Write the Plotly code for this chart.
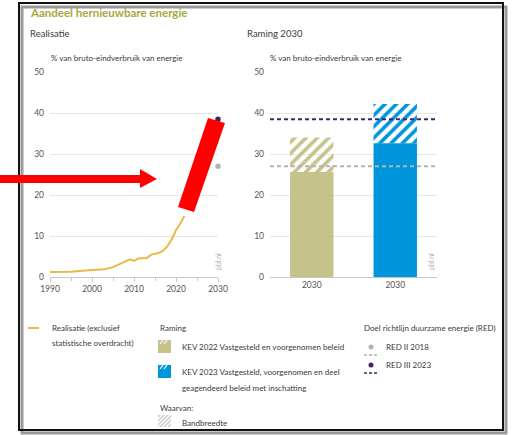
import plotly.graph_objects as go

# ---------------- data ----------------
years = [1990, 1995, 2000, 2003, 2005, 2007, 2008, 2009, 2010, 2011, 2012, 2013,
         2014, 2015, 2016, 2017, 2018, 2019, 2020, 2021, 2022]
share = [1.2, 1.3, 1.7, 1.9, 2.4, 3.4, 3.9, 4.3, 3.9, 4.5, 4.6, 4.6,
         5.4, 5.7, 5.9, 6.5, 7.6, 9.2, 11.4, 13.0, 14.9]

target_year = 2030
red_ii = 27.0
red_iii = 38.5

scen_labels = ["2030", "2030"]
scen_low = [25.6, 32.6]
scen_high = [34.0, 42.2]

title = "Aandeel hernieuwbare energie"
ytitle = "% van bruto-eindverbruik van energie"

# ---------------- styles ----------------
W, H = 512, 435
def px(x):
    return x / W
def py(y):
    return 1 - y / H

FONT = "Lato"
OLIVE = "#c5c28c"
BLUE = "#0096dc"
ORANGE = "#e9b949"
GRAYD = "#b3b3b3"
PURPLE = "#45226e"
TXT = "#3a3a3a"

fig = go.Figure()

# left: realisation line
fig.add_trace(go.Scatter(x=years, y=share, mode="lines",
                         line=dict(color=ORANGE, width=2), xaxis="x", yaxis="y",
                         hoverinfo="skip"))
fig.add_trace(go.Scatter(x=[target_year, target_year], y=[red_ii, red_iii], mode="markers",
                         marker=dict(color=[GRAYD, PURPLE], size=7,
                                     line=dict(color="white", width=1.5)),
                         xaxis="x", yaxis="y", cliponaxis=False, hoverinfo="skip"))

# right: bars
xi = list(range(len(scen_labels)))
fig.add_trace(go.Bar(x=xi, y=scen_low, marker=dict(color=[OLIVE, BLUE], line=dict(width=0)),
                     width=0.52, xaxis="x2", yaxis="y2", hoverinfo="skip"))
fig.add_trace(go.Bar(x=xi, y=[h - l for h, l in zip(scen_high, scen_low)], base=scen_low,
                     marker=dict(color=[OLIVE, BLUE], line=dict(width=0),
                                 pattern=dict(shape="/", fgcolor="white", bgcolor=[OLIVE, BLUE],
                                              fillmode="replace", size=8, solidity=0.45)),
                     width=0.52, xaxis="x2", yaxis="y2", hoverinfo="skip"))
fig.add_trace(go.Scatter(x=[-0.5, 1.5], y=[red_ii, red_ii], mode="lines",
                         line=dict(color=GRAYD, width=2, dash="4px,3px"),
                         xaxis="x2", yaxis="y2", hoverinfo="skip"))
fig.add_trace(go.Scatter(x=[-0.5, 1.5], y=[red_iii, red_iii], mode="lines",
                         line=dict(color=PURPLE, width=2, dash="4px,3px"),
                         xaxis="x2", yaxis="y2", hoverinfo="skip"))

tickfont = dict(family=FONT, size=8.5, color="#555")
ydom = [py(277), py(72)]

fig.update_layout(
    width=W, height=H, margin=dict(l=0, r=0, t=0, b=0, pad=0, autoexpand=False),
    paper_bgcolor="white", plot_bgcolor="white", showlegend=False, barmode="overlay",
    font=dict(family=FONT, color=TXT),
    xaxis=dict(domain=[px(50), px(218)], range=[1990, 2030], tickvals=[1990, 2000, 2010, 2020, 2030],
               showgrid=False, showline=True, linecolor="#c8c8c8", linewidth=1,
               ticks="outside", ticklen=4, tickcolor="#c8c8c8",
               minor=dict(dtick=5, ticks="outside", ticklen=3, tickcolor="#c8c8c8"),
               tickfont=tickfont, anchor="y", zeroline=False, fixedrange=True, automargin=False),
    yaxis=dict(domain=ydom, range=[0, 50], dtick=10, gridcolor="#e6e6e6", gridwidth=1,
               zeroline=False, showline=False, tickfont=tickfont, ticklabelstandoff=5,
               anchor="x", fixedrange=True, automargin=False),
    xaxis2=dict(domain=[px(270), px(437)], range=[-0.5, 1.5], tickvals=xi, ticktext=scen_labels,
                showgrid=False, showline=True, linecolor="#c8c8c8", ticks="",
                tickfont=tickfont, anchor="y2", zeroline=False, fixedrange=True, automargin=False),
    yaxis2=dict(domain=ydom, range=[0, 50], dtick=10, gridcolor="#e6e6e6", gridwidth=1,
                zeroline=False, showline=False, tickfont=tickfont, ticklabelstandoff=5,
                anchor="x2", fixedrange=True, automargin=False),
)

ann = []
def txt(x, y, s, size=8, color=TXT, anchor="left", **kw):
    ann.append(dict(x=px(x), y=py(y), xref="paper", yref="paper", text=s, showarrow=False,
                    xanchor=anchor, yanchor="middle", font=dict(family=FONT, size=size, color=color), **kw))

txt(28, 12, "<b>" + title + "</b>", size=11.5, color="#a7a93d")
txt(28, 33, "Realisatie", size=9.5)
txt(245, 33, "Raming 2030", size=9.5)
txt(49, 58, ytitle, size=8)
txt(268, 58, ytitle, size=8)
ann.append(dict(x=px(218), y=py(262), xref="paper", yref="paper", text="pbl.nl", showarrow=False,
                textangle=-90, font=dict(family=FONT, size=7, color="#aaa")))
ann.append(dict(x=px(437), y=py(262), xref="paper", yref="paper", text="pbl.nl", showarrow=False,
                textangle=-90, font=dict(family=FONT, size=7, color="#aaa")))

# legend texts
txt(50, 328, "Realisatie (exclusief")
txt(50, 343, "statistische overdracht)")
txt(158, 328, "Raming")
txt(180, 347, "KEV 2022 Vastgesteld en voorgenomen beleid")
txt(180, 372, "KEV 2023 Vastgesteld, voorgenomen en deel")
txt(180, 388, "geagendeerd beleid met inschatting")
txt(158, 408, "Waarvan:")
txt(180, 423, "Bandbreedte")
txt(362, 328, "Doel richtlijn duurzame energie (RED)")
txt(384, 347, "RED II 2018")
txt(384, 365, "RED III 2023")

shapes = []
def rect(x0, y0, x1, y1, fill, line=None, lw=0):
    shapes.append(dict(type="rect", xref="paper", yref="paper", x0=px(x0), y0=py(y0), x1=px(x1), y1=py(y1),
                       fillcolor=fill, line=dict(color=line or fill, width=lw), layer="above"))
def seg(x0, y0, x1, y1, color, width=1, dash="solid"):
    shapes.append(dict(type="line", xref="paper", yref="paper", x0=px(x0), y0=py(y0), x1=px(x1), y1=py(y1),
                       line=dict(color=color, width=width, dash=dash), layer="above"))
def path(pts, color):
    d = "M " + " L ".join(f"{px(a):.5f},{py(b):.5f}" for a, b in pts) + " Z"
    shapes.append(dict(type="path", xref="paper", yref="paper", path=d, fillcolor=color,
                       line=dict(color=color, width=0), layer="above"))

# legend swatches
seg(28, 328, 39, 328, ORANGE, 2)
rect(158, 340, 171, 353, OLIVE)
seg(160, 344, 163, 340, "white", 1.2)
seg(164, 344, 167, 340, "white", 1.2)
rect(158, 365, 171, 378, BLUE)
seg(160, 369, 163, 365, "white", 1.2)
seg(164, 369, 167, 365, "white", 1.2)
rect(158, 415, 171, 427, "#cfcfcf")
for k in range(-8, 14, 4):
    seg(158 + k, 427, 158 + k + 12, 415, "white", 1.3)
rect(152, 413, 158, 429, "white")
rect(171, 413, 177, 429, "white")
shapes.append(dict(type="circle", xref="paper", yref="paper", x0=px(368.5), y0=py(344.5), x1=px(373.5), y1=py(349.5),
                   fillcolor=GRAYD, line=dict(width=0)))
seg(364, 355, 378, 355, GRAYD, 1.5, "3px,2px")
shapes.append(dict(type="circle", xref="paper", yref="paper", x0=px(368.5), y0=py(362.5), x1=px(373.5), y1=py(367.5),
                   fillcolor=PURPLE, line=dict(width=0)))
seg(364, 373, 378, 373, PURPLE, 1.5, "3px,2px")

# frame with shadow
shapes.append(dict(type="rect", xref="paper", yref="paper", x0=px(22), y0=py(433), x1=px(506), y1=py(7),
                   fillcolor="rgba(0,0,0,0)", line=dict(color="#9a9a9a", width=3), layer="below"))
shapes.append(dict(type="rect", xref="paper", yref="paper", x0=px(19), y0=py(430), x1=px(503), y1=py(3),
                   fillcolor="rgba(0,0,0,0)", line=dict(color="#111", width=2), layer="above"))

# red annotation marks from the screenshot
rect(0, 175, 141, 183, "red")
path([(140, 169), (157, 179), (140, 188)], "red")
path([(208, 118), (225, 123), (194, 212), (178, 207)], "red")

fig.update_layout(annotations=ann, shapes=shapes)
fig.write_html("out.html", config={"displayModeBar": False},
               post_script="document.body.style.margin='0';document.body.style.overflow='hidden';")
